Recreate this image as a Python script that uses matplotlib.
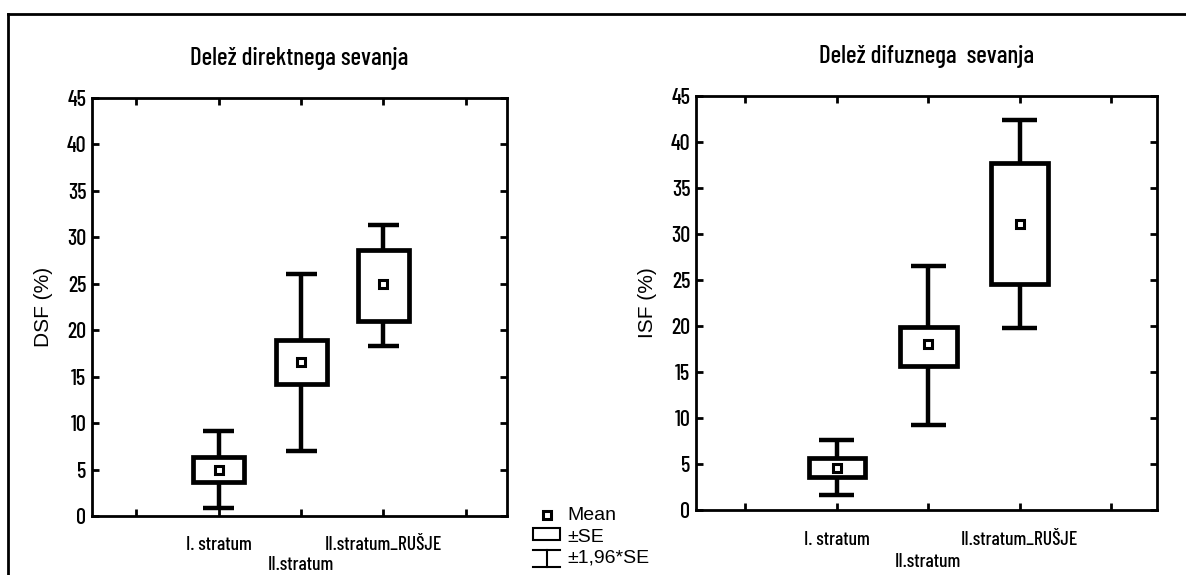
import matplotlib.pyplot as plt
from matplotlib.patches import Rectangle
from matplotlib.lines import Line2D

# group labels and per-group statistics (mean, mean±SE, mean±1.96*SE)
groups = ["I. stratum", "II.stratum", "II.stratum_RUŠJE"]
positions = [1, 2, 3]

dsf_mean = [5.0, 16.6, 25.0]
dsf_se_low = [3.7, 14.2, 21.0]
dsf_se_high = [6.4, 18.9, 28.6]
dsf_ci_low = [0.9, 7.0, 18.3]
dsf_ci_high = [9.2, 26.0, 31.3]

isf_mean = [4.6, 18.0, 31.1]
isf_se_low = [3.6, 15.6, 24.6]
isf_se_high = [5.6, 19.9, 37.7]
isf_ci_low = [1.6, 9.2, 19.8]
isf_ci_high = [7.6, 26.5, 42.4]

yticks = [0, 5, 10, 15, 20, 25, 30, 35, 40, 45]

narrow = ["Barlow Condensed", "Roboto Condensed", "DejaVu Sans"]
regular = ["Liberation Sans", "DejaVu Sans"]

W, H = 1186, 575
fig = plt.figure(figsize=(W / 100, H / 100), dpi=100)


def px(x0, y0, x1, y1):
    # pixel box (top-left origin) -> figure fraction rect
    return [x0 / W, 1 - y1 / H, (x1 - x0) / W, (y1 - y0) / H]


def draw_panel(ax, mean, se_lo, se_hi, ci_lo, ci_hi, title, ylabel, lab_off):
    box_w = 0.62
    cap_w = 0.38
    for p, m, sl, sh, cl, ch in zip(positions, mean, se_lo, se_hi, ci_lo, ci_hi):
        ax.vlines(p, cl, ch, color="black", lw=3.2, zorder=2)
        ax.hlines([cl, ch], p - cap_w / 2, p + cap_w / 2, color="black", lw=3.2, zorder=2)
        ax.add_patch(Rectangle((p - box_w / 2, sl), box_w, sh - sl, facecolor="white",
                               edgecolor="black", lw=3.4, zorder=3))
        ax.plot(p, m, marker="s", ms=6, mfc="white", mec="black", mew=2.2, zorder=4)

    ax.set_xlim(-0.54, 4.5)
    ax.set_ylim(0, 45)
    ax.set_yticks(yticks)
    ax.set_yticklabels([str(t) for t in yticks], family=narrow, fontsize=16, fontweight="medium")
    ax.set_xticks([0, 1, 2, 3, 4])
    ax.set_xticklabels([])
    ax.tick_params(direction="in", length=5, width=2, top=True, right=True, pad=4)
    for s in ax.spines.values():
        s.set_linewidth(2)
    ax.set_title(title, family=narrow, fontsize=18, fontweight="medium", pad=24)
    ax.set_ylabel(ylabel, family=regular, fontsize=15, labelpad=10)

    tr = ax.get_xaxis_transform()
    for i, (p, g) in enumerate(zip(positions, groups)):
        off = lab_off[1] if i == 1 else lab_off[0]
        ax.annotate(g, xy=(p, 0), xycoords=tr, xytext=(0, -off), textcoords="offset pixels",
                    ha="center", va="center", family=narrow, fontsize=14, fontweight="medium")


ax1 = fig.add_axes(px(92, 98, 507, 516))
draw_panel(ax1, dsf_mean, dsf_se_low, dsf_se_high, dsf_ci_low, dsf_ci_high,
           "Delež direktnega sevanja", "DSF (%)", (29, 49))

ax2 = fig.add_axes(px(696, 96, 1157, 510))
draw_panel(ax2, isf_mean, isf_se_low, isf_se_high, isf_ci_low, isf_ci_high,
           "Delež difuznega  sevanja", "ISF (%)", (30, 52))


# legend drawn by hand in pixel coordinates
def fx(x):
    return x / W


def fy(y):
    return 1 - y / H


fig.add_artist(Line2D([fx(547)], [fy(515)], marker="s", ms=6, mfc="white", mec="black", mew=2.2))
fig.add_artist(Rectangle((fx(533), fy(540)), fx(560) - fx(533), fy(528) - fy(540),
                         facecolor="white", edgecolor="black", lw=1.5, transform=fig.transFigure))
fig.add_artist(Line2D([fx(533), fx(560)], [fy(550), fy(550)], color="black", lw=1.5))
fig.add_artist(Line2D([fx(547), fx(547)], [fy(550), fy(567)], color="black", lw=1.5))
fig.add_artist(Line2D([fx(533), fx(560)], [fy(567), fy(567)], color="black", lw=1.5))
for y, t in [(516, "Mean"), (537, "±SE"), (558, "±1,96*SE")]:
    fig.text(fx(567), fy(y), t, ha="left", va="center", family=regular, fontsize=14)

# page frame
fig.add_artist(Line2D([fx(8), 1], [fy(14), fy(14)], color="black", lw=2))
fig.add_artist(Line2D([fx(8), fx(8)], [fy(14), 0], color="black", lw=2))

fig.savefig("out.png", dpi=100)
